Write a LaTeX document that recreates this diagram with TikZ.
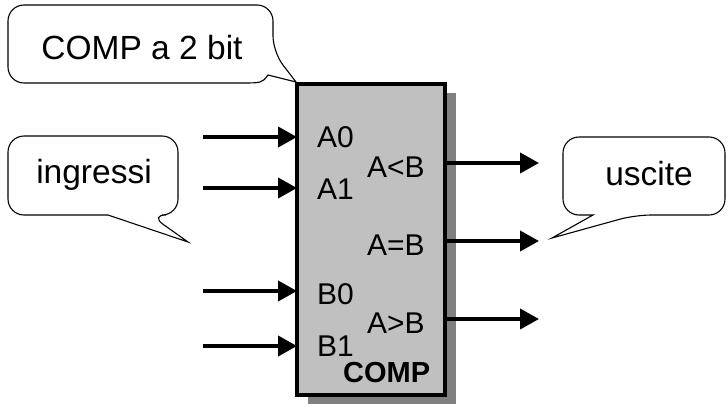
\documentclass[tikz,border=0pt]{standalone}
\usepackage{fontspec}
\setmainfont{Liberation Sans}
\usetikzlibrary{arrows.meta,shadows}
\definecolor{boxgray}{HTML}{C0C0C0}
\definecolor{shadegray}{HTML}{808080}

\begin{document}
\begin{tikzpicture}[x=1pt, y=-1pt,
    >={Triangle[length=19pt,width=20pt]},
    wire/.style={->, line width=4pt},
    pinlbl/.style={font=\fontsize{30}{36}\selectfont, anchor=base west, inner sep=0pt},
    notetext/.style={font=\fontsize{33.5}{40}\selectfont, anchor=base, inner sep=0pt},
    bubble/.style={draw, line width=1.1pt, fill=white}]
  \useasboundingbox (0,0) rectangle (728,407);
  % comparator block
  \node[draw, line width=3.5pt, fill=boxgray, inner sep=0pt, outer sep=0pt,
        minimum width=148pt, minimum height=311pt, anchor=north west,
        drop shadow={shadow xshift=11pt, shadow yshift=-9pt, fill=shadegray, opacity=1}]
        (comp) at (297,84) {};
  \node[pinlbl] (a0) at (317,147) {A0};
  \node[pinlbl] (a1) at (317,199) {A1};
  \node[pinlbl] (b0) at (317,304) {B0};
  \node[pinlbl] (b1) at (317,356) {B1};
  \node[pinlbl] (lt) at (367,177) {A<B};
  \node[pinlbl] (eq) at (367,255) {A=B};
  \node[pinlbl] (gt) at (367,333) {A>B};
  \node[pinlbl, font=\fontsize{29}{34}\selectfont\bfseries] (name) at (343,382) {COMP};
  % inputs and outputs
  \foreach \n/\y in {a0/137, a1/188, b0/291, b1/346} {
    \coordinate (in-\n) at (203,\y);
    \draw[wire] (in-\n) -- (in-\n -| comp.west);
  }
  \foreach \n/\y in {lt/163, eq/241, gt/319} {
    \coordinate (out-\n) at (539,\y);
    \draw[wire] (out-\n -| comp.east) -- (out-\n);
  }
  % callouts
  \draw[bubble] (8,45) [rounded corners=16] -- (8,5) -- (273,5) -- (273,52) [sharp corners]
    -- (296,82) -- (268,75) .. controls (262,83) .. (240,83) [rounded corners=16] -- (8,83) -- cycle;
  \node[notetext] (title) at (142,59) {COMP a 2 bit};
  \draw[bubble] (8,175) [rounded corners=16] -- (8,136) -- (178,136) -- (178,215) -- (150,215) [sharp corners]
    -- (188,242) -- (108,215) [rounded corners=16] -- (8,215) -- cycle;
  \node[notetext] (inlabel) at (94,183) {ingressi};
  \draw[bubble] (725,175) [rounded corners=16] -- (725,215) -- (635,215) [sharp corners]
    -- (552,238) -- (593,215) [rounded corners=16] -- (563,215) -- (563,137) -- (725,137) -- cycle;
  \node[notetext] (outlabel) at (649,185) {uscite};
\end{tikzpicture}
\end{document}
